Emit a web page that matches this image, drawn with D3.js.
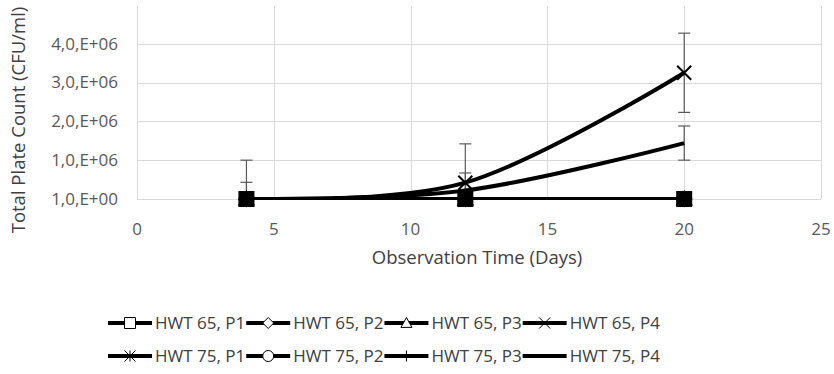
<!DOCTYPE html>
<html>
<head>
<meta charset="utf-8">
<script src="https://cdn.jsdelivr.net/npm/d3@7"></script>
<style>
  body { margin: 0; background: #fff; }
  svg { display: block; font-family: "Open Sans", sans-serif; }
  .grid line { stroke: #d9d9d9; stroke-width: 1; }
  .tick-label { fill: #595959; font-size: 17px; }
  .axis-title { fill: #404040; font-size: 18.5px; }
  .legend-label { fill: #404040; font-size: 17px; }
</style>
</head>
<body>
<svg id="chart" width="834" height="374"></svg>
<script>
// observation days
const days = [4, 12, 20];

// series names, markers and values (CFU/ml)
const seriesNames = ['HWT 65, P1', 'HWT 65, P2', 'HWT 65, P3', 'HWT 65, P4',
                     'HWT 75, P1', 'HWT 75, P2', 'HWT 75, P3', 'HWT 75, P4'];
const seriesMarkers = ['square', 'diamond', 'triangle', 'cross', 'star', 'circle', 'plus', 'none'];
const seriesValues = [
    [1, 1, 1],
    [1, 1, 1],
    [1, 1, 1],
    [1, 4.2e5, 3.25e6],
    [1, 1, 1],
    [1, 1, 1],
    [1, 1, 1],
    [1, 2.2e5, 1.44e6]
];
const seriesErrors = [
    [0, 0, 0],
    [0, 0, 0],
    [0, 0, 0],
    [1.0e6, 1.0e6, 1.02e6],
    [0, 0, 0],
    [0, 0, 0],
    [0, 0, 0],
    [4.3e5, 4.5e5, 4.4e5]
];

const xTicks = [0, 5, 10, 15, 20, 25];
const yTicks = [0, 1e6, 2e6, 3e6, 4e6];
const yTickLabels = ['1,0,E+00', '1,0,E+06', '2,0,E+06', '3,0,E+06', '4,0,E+06'];

const margin = {top: 6, left: 137, right: 13, bottom: 175};
const width = 834, height = 374;
const plotW = width - margin.left - margin.right;
const plotH = height - margin.top - margin.bottom;

const svg = d3.select('#chart');
const x = d3.scaleLinear().domain([0, 25]).range([margin.left, margin.left + plotW]);
const y = d3.scaleLinear().domain([0, 4.97e6]).range([margin.top + plotH, margin.top]);

svg.append('defs').append('clipPath').attr('id', 'plot-clip')
    .append('rect')
    .attr('x', margin.left).attr('y', margin.top)
    .attr('width', plotW).attr('height', plotH + 1);

// gridlines
const grid = svg.append('g').attr('class', 'grid');
grid.selectAll('.hg').data(yTicks).join('line')
    .attr('x1', x(0)).attr('x2', x(25))
    .attr('y1', d => Math.round(y(d)) + 0.5).attr('y2', d => Math.round(y(d)) + 0.5);
grid.selectAll('.vg').data(xTicks).join('line')
    .attr('y1', y(0)).attr('y2', margin.top)
    .attr('x1', d => Math.round(x(d)) + 0.5).attr('x2', d => Math.round(x(d)) + 0.5);

// tick labels
svg.append('g').selectAll('text').data(yTicks).join('text')
    .attr('class', 'tick-label')
    .attr('x', margin.left - 19)
    .attr('y', d => y(d))
    .attr('dy', '0.35em')
    .attr('text-anchor', 'end')
    .text((d, i) => yTickLabels[i]);

svg.append('g').selectAll('text').data(xTicks).join('text')
    .attr('class', 'tick-label')
    .attr('x', d => x(d))
    .attr('y', 229)
    .attr('dy', '0.35em')
    .attr('text-anchor', 'middle')
    .text(d => d);

// axis titles
svg.append('text').attr('class', 'axis-title')
    .attr('x', 477).attr('y', 258).attr('dy', '0.35em')
    .attr('text-anchor', 'middle')
    .text('Observation Time (Days)');

svg.append('text').attr('class', 'axis-title')
    .attr('transform', 'translate(19,120) rotate(-90)')
    .attr('dy', '0.35em')
    .attr('text-anchor', 'middle')
    .text('Total Plate Count (CFU/ml)');

// marker shapes
function markerPath(type, s) {
    const h = s / 2;
    switch (type) {
        case 'square': return `M${-h},${-h}H${h}V${h}H${-h}Z`;
        case 'diamond': return `M0,${-h}L${h},0L0,${h}L${-h},0Z`;
        case 'triangle': return `M0,${-h}L${h},${h * 0.8}H${-h}Z`;
        case 'circle': return d3.symbol(d3.symbolCircle, Math.PI * h * h)();
        case 'cross': return `M${-h},${-h}L${h},${h}M${h},${-h}L${-h},${h}`;
        case 'plus': return `M0,${-h}V${h}`;
        case 'star': return `M${-h},${-h}L${h},${h}M${h},${-h}L${-h},${h}M0,${-h}V${h}`;
        default: return '';
    }
}

const series = seriesNames.map((name, i) => ({
    name: name,
    marker: seriesMarkers[i],
    points: days.map((d, j) => ({day: d, value: seriesValues[i][j], err: seriesErrors[i][j]}))
}));

const plot = svg.append('g').attr('clip-path', 'url(#plot-clip)');

// error bars (drawn under the lines)
const errPts = series.flatMap(s => s.points.filter(p => p.err > 0));
const eb = plot.append('g').attr('stroke', '#595959').attr('stroke-width', 1.2);
eb.selectAll('.eb').data(errPts).join('line')
    .attr('x1', d => x(d.day)).attr('x2', d => x(d.day))
    .attr('y1', d => y(d.value - d.err)).attr('y2', d => y(d.value + d.err));
eb.selectAll('.cap-top').data(errPts).join('line')
    .attr('x1', d => x(d.day) - 6).attr('x2', d => x(d.day) + 6)
    .attr('y1', d => y(d.value + d.err)).attr('y2', d => y(d.value + d.err));
eb.selectAll('.cap-bot').data(errPts).join('line')
    .attr('x1', d => x(d.day) - 6).attr('x2', d => x(d.day) + 6)
    .attr('y1', d => y(d.value - d.err)).attr('y2', d => y(d.value - d.err));

// lines
const line = d3.line()
    .x(d => x(d.day)).y(d => y(d.value))
    .curve(d3.curveCardinal.tension(0));

plot.append('g').selectAll('path').data(series).join('path')
    .attr('fill', 'none')
    .attr('stroke', '#000')
    .attr('stroke-width', 4)
    .attr('d', s => line(s.points));

// markers
const mk = svg.append('g');
series.forEach(s => {
    if (s.marker === 'none') return;
    mk.selectAll(null).data(s.points).join('path')
        .attr('transform', d => `translate(${x(d.day)},${y(d.value)})`)
        .attr('d', markerPath(s.marker, 14))
        .attr('fill', '#000')
        .attr('stroke', '#000')
        .attr('stroke-width', 2);
});

// legend
const legendRows = [seriesNames.slice(0, 4), seriesNames.slice(4)];
const rowY = [323, 356];
legendRows.forEach((row, r) => {
    let cx = 108;
    row.forEach((name) => {
        const i = seriesNames.indexOf(name);
        const g = svg.append('g').attr('transform', `translate(${cx},${rowY[r]})`);
        g.append('line')
            .attr('x1', 0).attr('x2', 44).attr('y1', 0).attr('y2', 0)
            .attr('stroke', '#000').attr('stroke-width', 4);
        if (seriesMarkers[i] !== 'none') {
            g.append('path')
                .attr('transform', 'translate(22,0)')
                .attr('d', markerPath(seriesMarkers[i], 11))
                .attr('fill', '#fff')
                .attr('stroke', '#000')
                .attr('stroke-width', 1);
        }
        const t = g.append('text').attr('class', 'legend-label')
            .attr('x', 47).attr('dy', '0.35em')
            .text(name);
        cx += 47 + t.node().getComputedTextLength() + 1;
    });
});
</script>
</body>
</html>
